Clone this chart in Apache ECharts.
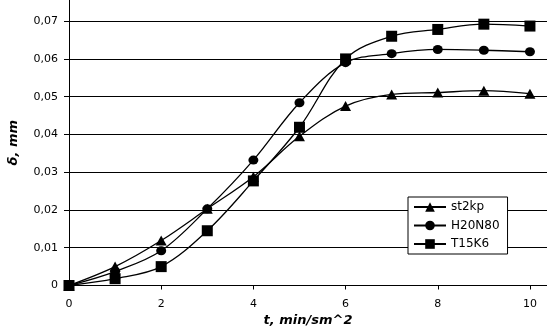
<!DOCTYPE html>
<html><head><meta charset="utf-8">
<script src="https://cdn.jsdelivr.net/npm/echarts@6/dist/echarts.min.js"></script>
<style>html,body{margin:0;padding:0;background:#fff}#c{width:547px;height:333px}</style>
</head><body><div id="c"></div>
<script>
var tValues = [0, 1, 2, 3, 4, 5, 6, 7, 8, 9, 10];
var st2kp = [0, 0.0050, 0.0119, 0.0203, 0.0288, 0.0395, 0.0475, 0.0506, 0.0511, 0.0516, 0.0508];
var h20n80 = [0, 0.0037, 0.0092, 0.0203, 0.0332, 0.0484, 0.0590, 0.0614, 0.0625, 0.0623, 0.0619];
var t15k6 = [0, 0.0018, 0.0050, 0.0145, 0.0277, 0.0419, 0.0600, 0.0660, 0.0678, 0.0692, 0.0687];
var xTicks = [0, 2, 4, 6, 8, 10];
var yTicks = [0, 0.01, 0.02, 0.03, 0.04, 0.05, 0.06, 0.07];
var seriesNames = ['st2kp', 'H20N80', 'T15K6'];

function pairs(arr) { return tValues.map(function (t, i) { return [t, arr[i]]; }); }
var FONT = 'DejaVu Sans';
var chart = echarts.init(document.getElementById('c'), null, {renderer: 'canvas'});
function mk(name, data, symbol, size) {
  return {
    name: name, type: 'line', data: pairs(data), smooth: 0.35,
    symbol: symbol, symbolSize: size,
    lineStyle: {color: '#000', width: 1.3},
    itemStyle: {color: '#000'},
    emphasis: {disabled: true}
  };
}
chart.setOption({
  animation: false,
  backgroundColor: '#fff',
  grid: {left: 69, right: 0, top: 0, bottom: 47.5, outerBoundsMode: 'none', containLabel: false},
  xAxis: {
    type: 'value', min: 0, max: 10.37, interval: 2,
    name: 't, min/sm^2', nameLocation: 'middle', nameGap: 19,
    nameTextStyle: {fontFamily: FONT, fontWeight: 'bold', fontStyle: 'italic', fontSize: 13, color: '#000'},
    axisLine: {lineStyle: {color: '#000', width: 1}},
    axisTick: {show: true, length: 4, lineStyle: {color: '#000'}, customValues: xTicks},
    axisLabel: {color: '#000', fontFamily: FONT, fontSize: 11, margin: 13, customValues: xTicks},
    splitLine: {show: false}
  },
  yAxis: {
    type: 'value', min: 0, max: 0.0756, interval: 0.01,
    name: 'δ, mm', nameLocation: 'middle', nameGap: 49, nameRotate: 90,
    nameTextStyle: {fontFamily: FONT, fontWeight: 'bold', fontStyle: 'italic', fontSize: 13, color: '#000'},
    axisLine: {show: true, lineStyle: {color: '#000', width: 1}},
    axisTick: {show: true, length: 5, lineStyle: {color: '#000'}, customValues: yTicks},
    axisLabel: {color: '#000', fontFamily: FONT, fontSize: 11, margin: 11, customValues: yTicks,
      formatter: function (v) { return v === 0 ? '0' : v.toFixed(2).replace('.', ','); }},
    splitLine: {show: true, lineStyle: {color: '#000', width: 1}}
  },
  legend: {
    orient: 'vertical', left: 408, top: 197,
    data: seriesNames,
    backgroundColor: '#fff', borderColor: '#000', borderWidth: 1,
    padding: [4, 8, 4, 5], itemWidth: 32, itemHeight: 12, itemGap: 6.5,
    textStyle: {fontFamily: FONT, fontSize: 12, color: '#000'}
  },
  series: [
    mk(seriesNames[0], st2kp, 'triangle', [11, 10]),
    mk(seriesNames[1], h20n80, 'circle', [10, 9]),
    mk(seriesNames[2], t15k6, 'rect', 11)
  ]
});
</script></body></html>
